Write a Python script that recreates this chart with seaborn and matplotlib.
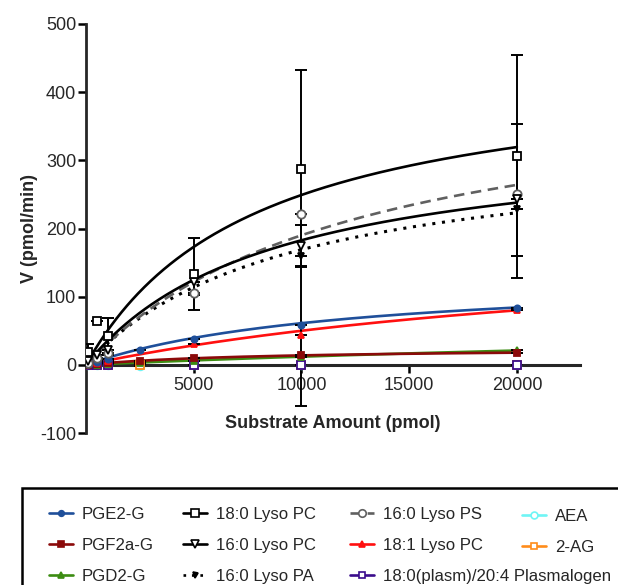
import numpy as np
import pandas as pd
import matplotlib
matplotlib.use("Agg")
import matplotlib.pyplot as plt
import seaborn as sns
from matplotlib.lines import Line2D
from matplotlib.patches import Rectangle

# ---------------- data ----------------
substrate = [100, 500, 1000, 2500, 5000, 10000, 20000]
nan = np.nan

names = ["PGE2-G", "PGF2a-G", "PGD2-G",
         "18:0 Lyso PC", "16:0 Lyso PC", "16:0 Lyso PA",
         "16:0 Lyso PS", "18:1 Lyso PC", "18:0(plasm)/20:4 Plasmalogen",
         "AEA", "2-AG"]

pge2_g      = [1, 4, 8, 22, 38, 59, 84]
pgf2a_g     = [0, 1, 2, 5, 10, 15, 18]
pgd2_g      = [0, 0, 1, 3, 5, 12, 22]
lpc_180     = [19, 64, 42, nan, 133, 288, 307]
lpc_160     = [5, 14, 22, nan, 122, 175, 243]
lpa_160     = [3, 9, 16, nan, 103, 160, 228]
lps_160     = [3, 10, 18, nan, 106, 222, 250]
lpc_181     = [1, 2, 5, nan, 30, 44, 80]
plasmalogen = [0, 0, 0, nan, 0, 0, 0]
aea         = [0, 0, 0, -2, 0, 0, 0]
ag_2        = [0, 0, 0, 0, 0, 0, 0]

# error bars (lower, upper)
err_lo_lpc_180 = [12, 0, 27, 0, 53, 144, 147]
err_hi_lpc_180 = [12, 0, 27, 0, 53, 144, 147]
err_lo_lpc_160 = [0, 0, 0, 0, 0, 30, 0]
err_hi_lpc_160 = [0, 0, 0, 0, 0, 30, 0]
err_lo_lpa_160 = [0, 0, 0, 0, 0, 220, 0]
err_hi_lpa_160 = [0, 0, 0, 0, 0, 0, 0]
err_lo_lps_160 = [0, 0, 0, 0, 0, 0, 122]
err_hi_lps_160 = [0, 0, 0, 0, 0, 0, 104]

# Michaelis-Menten fit parameters
vmax = [135, 25, 84, 445, 341, 328, 432, 200, 0, 0, 0]
km   = [12100, 8000, 60000, 7860, 8660, 9410, 12730, 30000, 1000, 1000, 1000]

values = [pge2_g, pgf2a_g, pgd2_g, lpc_180, lpc_160, lpa_160,
          lps_160, lpc_181, plasmalogen, aea, ag_2]
zero = [0] * len(substrate)
errors = [(zero, zero), (zero, zero), (zero, zero),
          (err_lo_lpc_180, err_hi_lpc_180), (err_lo_lpc_160, err_hi_lpc_160),
          (err_lo_lpa_160, err_hi_lpa_160), (err_lo_lps_160, err_hi_lps_160),
          (zero, zero), (zero, zero), (zero, zero), (zero, zero)]

# ---------------- styles ----------------
colors = ["#1f4f9a", "#8b0a0a", "#3c8c12", "black", "black", "black",
          "#606060", "#ff1010", "#3a0c8c", "#6ff5f5", "#ff8c1a"]
markers = ["o", "s", "^", "s", "v", "v", "o", "^", "s", "o", "s"]
mfill = [True, True, True, False, False, True, False, True, False, False, False]
msize = [4.5, 4.5, 5, 6, 6, 4, 6, 5, 5.5, 5.5, 5.5]
lstyles = ["-", "-", "-", "-", "-", (0, (1, 2.2)), (0, (4, 2.5)), "-", "-", "-", "-"]

sns.set_style("ticks")
plt.rcParams["font.family"] = ["Liberation Sans", "DejaVu Sans"]
plt.rcParams["axes.unicode_minus"] = False

fig = plt.figure(figsize=(6.18, 5.85), dpi=100)
ax = fig.add_axes([86 / 618, 1 - 433 / 585, (580 - 86) / 618, (433 - 24) / 585])

s_grid = np.linspace(0, 20000, 400)
curves = []
for i, n in enumerate(names):
    curves.append(pd.DataFrame({"S": s_grid,
                                "V": vmax[i] * s_grid / (km[i] + s_grid),
                                "name": n}))

order_draw = [9, 10, 8, 2, 1, 7, 0, 5, 6, 4, 3]
for i in order_draw:
    lw = 2.2 if i == 5 else 1.9
    zc = 1 if vmax[i] == 0 else 3
    sns.lineplot(data=curves[i], x="S", y="V", ax=ax, color=colors[i],
                 linestyle=lstyles[i], linewidth=lw, legend=False, zorder=zc)
    ax.errorbar(substrate, values[i], yerr=[errors[i][0], errors[i][1]], fmt="none",
                ecolor="black", elinewidth=1.4, capsize=4, capthick=1.4, zorder=4)
    ax.plot(substrate, values[i], linestyle="none", marker=markers[i],
            markersize=msize[i], markeredgewidth=1.3,
            color=colors[i], markerfacecolor=colors[i] if mfill[i] else "white",
            zorder=5)

ax.set_xlim(0, 22930)
ax.set_ylim(-100, 500)
ax.set_xticks([5000, 10000, 15000, 20000])
ax.set_yticks([-100, 0, 100, 200, 300, 400, 500])
ax.spines["right"].set_visible(False)
ax.spines["top"].set_visible(False)
ax.spines["bottom"].set_position(("data", 0))
ax.spines["bottom"].set_linewidth(2.2)
ax.spines["left"].set_linewidth(2.0)
ax.tick_params(axis="both", labelsize=13, width=1.8, length=5.5, color="black")
ax.tick_params(axis="y", pad=1.5)
ax.tick_params(axis="x", pad=3)
ax.set_xlabel("Substrate Amount (pmol)", fontsize=13, fontweight="bold")
ax.set_ylabel("V (pmol/min)", fontsize=13, fontweight="bold")
ax.xaxis.set_label_coords(0.5, 0.045)
ax.yaxis.set_label_coords(-0.097, 0.5)

# legend: four column blocks placed like the reference
def handle(i):
    return Line2D([0], [0], color=colors[i], linestyle=lstyles[i],
                  linewidth=1.9, marker=markers[i], markersize=msize[i] * 0.9,
                  markerfacecolor=colors[i] if mfill[i] else "white",
                  markeredgewidth=1.2, label=names[i])

blocks = [([0, 1, 2], 49, 507), ([3, 4, 5], 183, 507),
          ([6, 7, 8], 350, 507), ([9, 10], 522, 509)]
for idx, xpx, ypx in blocks:
    lg = fig.legend(handles=[handle(i) for i in idx], loc="upper left",
                    bbox_to_anchor=(xpx / 618, 1 - ypx / 585), frameon=False,
                    fontsize=12.1, handlelength=1.4, handletextpad=0.55,
                    labelspacing=0.95, borderpad=0, borderaxespad=0)
fig.patches.append(Rectangle((22 / 618, -0.1), 1.2, (585 - 488) / 585 + 0.1,
                             transform=fig.transFigure, fill=False,
                             edgecolor="black", linewidth=1.8))

fig.savefig("out.png", dpi=100)
